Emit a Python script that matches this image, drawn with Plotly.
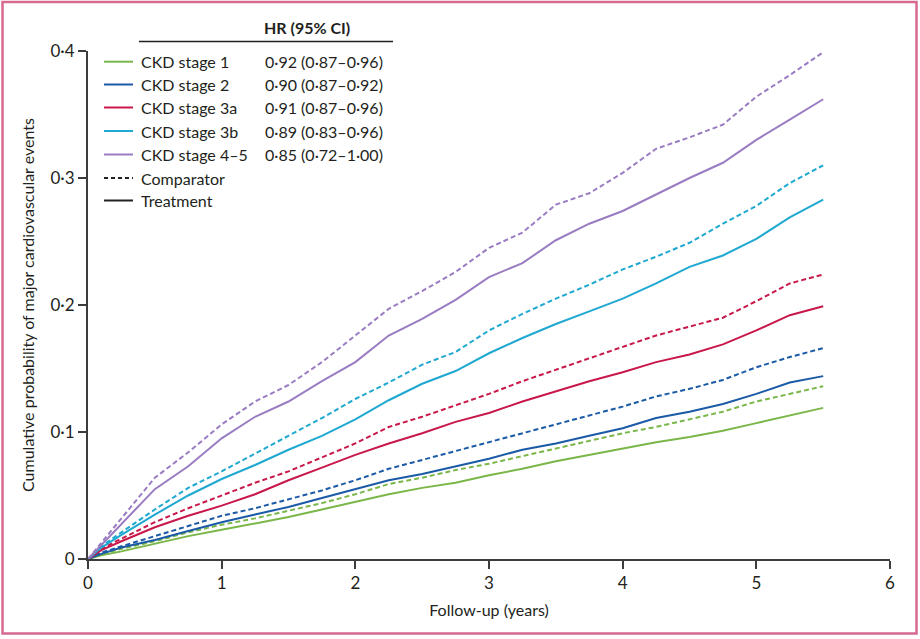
import plotly.graph_objects as go

# ---------------- data ----------------
years = [0, 0.1, 0.25, 0.5, 0.75, 1.0, 1.25, 1.5, 1.75, 2.0, 2.25, 2.5, 2.75,
         3.0, 3.25, 3.5, 3.75, 4.0, 4.25, 4.5, 4.75, 5.0, 5.25, 5.5]

stage1_treat = [0, 0.003, 0.006, 0.012, 0.018, 0.023, 0.028, 0.033, 0.039, 0.045, 0.051, 0.056,
                0.060, 0.066, 0.071, 0.077, 0.082, 0.087, 0.092, 0.096, 0.101, 0.107, 0.113, 0.119]
stage1_comp = [0, 0.004, 0.008, 0.014, 0.021, 0.027, 0.032, 0.038, 0.044, 0.051, 0.059, 0.064,
               0.070, 0.075, 0.081, 0.087, 0.093, 0.099, 0.104, 0.110, 0.116, 0.124, 0.130, 0.136]
stage2_treat = [0, 0.004, 0.009, 0.015, 0.022, 0.029, 0.035, 0.041, 0.048, 0.055, 0.062, 0.067,
                0.073, 0.079, 0.086, 0.091, 0.097, 0.103, 0.111, 0.116, 0.122, 0.130, 0.139, 0.144]
stage2_comp = [0, 0.005, 0.010, 0.018, 0.026, 0.034, 0.040, 0.047, 0.054, 0.062, 0.071, 0.078,
               0.085, 0.092, 0.099, 0.106, 0.113, 0.120, 0.128, 0.134, 0.141, 0.151, 0.159, 0.166]
stage3a_treat = [0, 0.007, 0.014, 0.025, 0.034, 0.042, 0.051, 0.062, 0.072, 0.082, 0.091, 0.099,
                 0.108, 0.115, 0.124, 0.132, 0.140, 0.147, 0.155, 0.161, 0.169, 0.180, 0.192, 0.199]
stage3a_comp = [0, 0.008, 0.016, 0.029, 0.040, 0.050, 0.060, 0.069, 0.080, 0.091, 0.104, 0.112,
                0.121, 0.130, 0.140, 0.149, 0.158, 0.167, 0.176, 0.183, 0.190, 0.203, 0.217, 0.224]
stage3b_treat = [0, 0.009, 0.019, 0.035, 0.050, 0.063, 0.074, 0.086, 0.097, 0.110, 0.125, 0.138,
                 0.148, 0.162, 0.174, 0.185, 0.195, 0.205, 0.217, 0.230, 0.239, 0.252, 0.269, 0.283]
stage3b_comp = [0, 0.010, 0.021, 0.039, 0.056, 0.069, 0.083, 0.097, 0.111, 0.126, 0.139, 0.153,
                0.163, 0.180, 0.193, 0.205, 0.216, 0.228, 0.238, 0.249, 0.264, 0.278, 0.296, 0.310]
stage45_treat = [0, 0.011, 0.028, 0.055, 0.073, 0.095, 0.112, 0.124, 0.140, 0.155, 0.176, 0.189,
                 0.204, 0.222, 0.233, 0.251, 0.264, 0.274, 0.287, 0.300, 0.312, 0.330, 0.346, 0.362]
stage45_comp = [0, 0.013, 0.032, 0.064, 0.084, 0.106, 0.124, 0.137, 0.155, 0.176, 0.197, 0.211,
                0.226, 0.245, 0.257, 0.279, 0.288, 0.304, 0.323, 0.332, 0.342, 0.364, 0.381, 0.399]

stage_names = ["CKD stage 1", "CKD stage 2", "CKD stage 3a", "CKD stage 3b", "CKD stage 4–5"]
hr_labels = ["0·92 (0·87–0·96)", "0·90 (0·87–0·92)", "0·91 (0·87–0·96)",
             "0·89 (0·83–0·96)", "0·85 (0·72–1·00)"]
colors = ["#7ab648", "#1b5aa6", "#c8184a", "#1fa8d0", "#9a7cc2"]
treat = [stage1_treat, stage2_treat, stage3a_treat, stage3b_treat, stage45_treat]
comp = [stage1_comp, stage2_comp, stage3a_comp, stage3b_comp, stage45_comp]

x_ticks = [0, 1, 2, 3, 4, 5, 6]
y_ticks = [0, 0.1, 0.2, 0.3, 0.4]
y_ticktext = ["0", "0·1", "0·2", "0·3", "0·4"]

FONT = "Lato, 'Open Sans', sans-serif"
AX = "#3c3c3c"

fig = go.Figure()
for name, col, t, c in zip(stage_names, colors, treat, comp):
    fig.add_trace(go.Scatter(x=years, y=c, mode="lines", name=name + " comparator",
                             line=dict(color=col, width=2, dash="5px,3px"), showlegend=False))
    fig.add_trace(go.Scatter(x=years, y=t, mode="lines", name=name,
                             line=dict(color=col, width=2), showlegend=False))

W, H = 920, 639
L, R, T, B = 88, 30, 51, 80
pw, ph = W - L - R, H - T - B


def px(xp):
    return (xp - L) / pw


def py(yp):
    return (H - B - yp) / ph


shapes = []
annotations = []
row_y = [61.7, 84.5, 107.5, 131, 154.5, 178, 200.5]
legend_colors = colors + ["#222222", "#222222"]
legend_dash = ["solid"] * 5 + ["4px,3px", "solid"]
legend_text = stage_names + ["Comparator", "Treatment"]
for i, yy in enumerate(row_y):
    shapes.append(dict(type="line", xref="paper", yref="paper", x0=px(104), x1=px(133),
                       y0=py(yy), y1=py(yy),
                       line=dict(color=legend_colors[i], width=2, dash=legend_dash[i])))
    annotations.append(dict(xref="paper", yref="paper", x=px(139), y=py(yy), text=legend_text[i],
                            showarrow=False, xanchor="left", yanchor="middle",
                            font=dict(family=FONT, size=16, color="#231f20")))
    if i < 5:
        annotations.append(dict(xref="paper", yref="paper", x=px(263), y=py(yy), text=hr_labels[i],
                                showarrow=False, xanchor="left", yanchor="middle",
                                font=dict(family=FONT, size=16, color="#231f20")))
annotations.append(dict(xref="paper", yref="paper", x=px(307), y=py(27), text="<b>HR (95% CI)</b>",
                        showarrow=False, xanchor="center", yanchor="middle",
                        font=dict(family=FONT, size=16, color="#231f20")))
shapes.append(dict(type="line", xref="paper", yref="paper", x0=px(139), x1=px(393),
                   y0=py(41.5), y1=py(41.5), line=dict(color="#231f20", width=1.5)))
# outer pink frame
shapes.append(dict(type="rect", xref="paper", yref="paper", x0=px(2.5), x1=px(916.5),
                   y0=py(633.5), y1=py(2), line=dict(color="#d66a90", width=2.5)))

fig.update_layout(
    width=W, height=H,
    margin=dict(l=L, r=R, t=T, b=B),
    paper_bgcolor="white", plot_bgcolor="white",
    font=dict(family=FONT, size=16, color="#231f20"),
    shapes=shapes, annotations=annotations, showlegend=False,
    xaxis=dict(range=[0, 6], tickvals=x_ticks, showgrid=False, zeroline=False,
               showline=True, linecolor=AX, linewidth=2, ticks="outside", ticklen=8,
               tickwidth=1.5, tickcolor=AX, tickfont=dict(size=17),
               title=dict(text="Follow-up (years)", font=dict(size=16), standoff=12)),
    yaxis=dict(range=[0, 0.4], tickvals=y_ticks, ticktext=y_ticktext, showgrid=False,
               zeroline=False, showline=True, linecolor=AX, linewidth=2, ticks="outside",
               ticklen=8, tickwidth=1.5, tickcolor=AX, tickfont=dict(size=17),
               title=dict(text="Cumulative probability of major cardiovascular events",
                          font=dict(size=16), standoff=12)),
)

fig.write_html("out.html")
